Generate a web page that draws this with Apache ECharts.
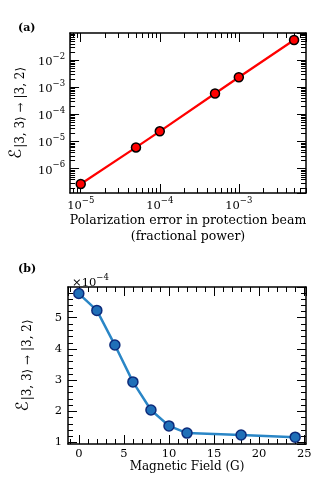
<!DOCTYPE html>
<html>
<head>
<meta charset="utf-8">
<script src="https://cdn.jsdelivr.net/npm/echarts@6/dist/echarts.min.js"></script>
<style>
  html, body { margin: 0; padding: 0; background: #fff; }
  #chart { width: 328px; height: 490px; }
</style>
</head>
<body>
<div id="chart"></div>
<script>
/* -----------------------------
   Leakage |3,3> -> |3,2> : two stacked panels
   ----------------------------- */

// Panel (a): polarization error vs leakage (log-log)
const polError = [1e-5, 5e-5, 1e-4, 5e-4, 1e-3, 5e-3];
const polLeak = [2.7e-7, 6.0e-6, 2.35e-5, 5.8e-4, 2.3e-3, 5.4e-2];

// Panel (b): magnetic field vs leakage, values in units of 1e-4
const fieldG = [0, 2, 4, 6, 8, 10, 12, 18, 24];
const fieldLeak = [5.77, 5.23, 4.12, 2.94, 2.04, 1.53, 1.30, 1.24, 1.17];

// Axis ranges
const A_X = [Math.pow(10, -5.135), Math.pow(10, -2.15)];
const A_Y = [Math.pow(10, -6.9), Math.pow(10, -1.01)];
const B_X = [-1.2, 25.2];
const B_Y = [0.95, 5.98];

const SERIF = "DejaVu Serif";
const MAJOR = 9;
const MINOR = 5;

// minor tick positions, [x, y, kind]  kind 0 = x tick, 1 = y tick
const aMinor = [];
for (let n = -7; n <= -1; n++) {
  for (let k = 2; k <= 9; k++) {
    const v = k * Math.pow(10, n);
    if (v > A_X[0] && v < A_X[1]) aMinor.push([v, 1e-3, 0]);
    if (v > A_Y[0] && v < A_Y[1]) aMinor.push([1e-4, v, 1]);
  }
}
const bMinor = [];
for (let v = -1; v <= 25; v++) {
  if (v % 5 !== 0) bMinor.push([v, 3, 0]);
}
for (let i = 5; i < 30; i++) {
  const v = i / 5;
  if (i % 5 !== 0 && v < B_Y[1]) bMinor.push([10, v, 1]);
}

function minorTicks(params, api) {
  const r = params.coordSys;
  const style = { stroke: "#000", lineWidth: 1 };
  const p = api.coord([api.value(0), api.value(1)]);
  if (api.value(2) === 0) {
    const x = Math.round(p[0]) + 0.5;
    return { type: "group", children: [
      { type: "line", shape: { x1: x, y1: r.y + r.height, x2: x, y2: r.y + r.height - MINOR }, style },
      { type: "line", shape: { x1: x, y1: r.y, x2: x, y2: r.y + MINOR }, style }
    ] };
  }
  const y = Math.round(p[1]) + 0.5;
  return { type: "group", children: [
    { type: "line", shape: { x1: r.x, y1: y, x2: r.x + MINOR, y2: y }, style },
    { type: "line", shape: { x1: r.x + r.width, y1: y, x2: r.x + r.width - MINOR, y2: y }, style }
  ] };
}

const supRich = {
  b: { fontFamily: SERIF, fontSize: 11.5, fontWeight: "normal", color: "#000", padding: [4, 0, 0, 0], verticalAlign: "bottom" },
  s: { fontFamily: SERIF, fontSize: 8.5, fontWeight: "normal", color: "#000", verticalAlign: "top" },
  x: { fontFamily: SERIF, fontSize: 11.5, fontWeight: "normal", color: "#000", padding: [4, 0, 0, 0], verticalAlign: "bottom" }
};

function pow10Label(v) {
  const e = Math.round(Math.log10(v));
  return `{b|10}{s|${e < 0 ? "\u2212" : ""}${Math.abs(e)}}`;
}

const yNameRich = {
  e: { fontFamily: "DejaVu Sans", fontSize: 17, color: "#000", verticalAlign: "top" },
  sub: { fontFamily: SERIF, fontSize: 12, color: "#000", verticalAlign: "bottom", padding: [7, 0, 0, 1] }
};
const yName = "{e|\u2130}{sub||3, 3\u27E9 \u2192 |3, 2\u27E9}";

function axisBase(type, gridIndex, range, extra) {
  return Object.assign({
    type,
    gridIndex,
    min: range[0],
    max: range[1],
    axisLine: { show: true, onZero: false, lineStyle: { color: "#000", width: 1.5 } },
    axisTick: { show: true, inside: true, length: MAJOR, lineStyle: { color: "#000", width: 1 } },
    splitLine: { show: false },
    axisLabel: { show: false }
  }, extra);
}

const chart = echarts.init(document.getElementById("chart"), null, { renderer: "canvas" });

chart.setOption({
  animation: false,
  backgroundColor: "#fff",
  title: [
    { text: "(a)", left: 13, top: 18, textStyle: { fontFamily: SERIF, fontSize: 11, fontWeight: "bold", color: "#000" } },
    { text: "(b)", left: 13, top: 259, textStyle: { fontFamily: SERIF, fontSize: 11, fontWeight: "bold", color: "#000" } },
    { text: "{x|×10}{s|\u22124}", left: 67, top: 268,
      textStyle: { fontFamily: SERIF, fontSize: 11, fontWeight: "normal", color: "#000", rich: supRich } }
  ],
  grid: [
    { left: 68, top: 33, width: 238, height: 160 },
    { left: 68, top: 287, width: 238, height: 157 }
  ],
  xAxis: [
    axisBase("log", 0, A_X, {
      position: "bottom",
      logBase: 10,
      axisLabel: { show: true, margin: 3, formatter: pow10Label, rich: supRich, showMinLabel: false, showMaxLabel: false },
      name: "Polarization error in protection beam\n(fractional power)",
      nameLocation: "middle",
      nameGap: 19,
      nameTextStyle: { fontFamily: SERIF, fontSize: 12.5, color: "#000", lineHeight: 16 }
    }),
    axisBase("log", 0, A_X, { position: "top", logBase: 10 }),
    axisBase("value", 1, B_X, {
      position: "bottom",
      axisLabel: { show: true, margin: 4, fontFamily: SERIF, fontSize: 11.5, color: "#000", showMinLabel: false, showMaxLabel: false },
      name: "Magnetic Field (G)",
      nameLocation: "middle",
      nameGap: 14,
      nameTextStyle: { fontFamily: SERIF, fontSize: 12, color: "#000" }
    }),
    axisBase("value", 1, B_X, { position: "top" })
  ],
  yAxis: [
    axisBase("log", 0, A_Y, {
      position: "left",
      logBase: 10,
      axisLabel: { show: true, margin: 5, formatter: pow10Label, rich: supRich, showMinLabel: false, showMaxLabel: false },
      name: yName,
      nameLocation: "middle",
      nameGap: 34,
      nameRotate: 90,
      nameTextStyle: { rich: yNameRich }
    }),
    axisBase("log", 0, A_Y, { position: "right", logBase: 10 }),
    axisBase("value", 1, B_Y, {
      position: "left",
      axisLabel: { show: true, margin: 6, fontFamily: SERIF, fontSize: 11.5, color: "#000", showMinLabel: false, showMaxLabel: false },
      name: yName,
      nameLocation: "middle",
      nameGap: 34,
      nameRotate: 90,
      nameTextStyle: { rich: yNameRich }
    }),
    axisBase("value", 1, B_Y, { position: "right" })
  ],
  series: [
    {
      type: "custom",
      xAxisIndex: 0, yAxisIndex: 0,
      silent: true, z: 5,
      renderItem: minorTicks,
      data: aMinor
    },
    {
      type: "custom",
      xAxisIndex: 2, yAxisIndex: 2,
      silent: true, z: 5,
      renderItem: minorTicks,
      data: bMinor
    },
    {
      type: "line",
      xAxisIndex: 0, yAxisIndex: 0,
      data: polError.map((x, i) => [x, polLeak[i]]),
      symbol: "circle",
      symbolSize: 9,
      lineStyle: { color: "#ff0000", width: 2.2 },
      itemStyle: { color: "#ff0000", borderColor: "#000", borderWidth: 1.5 },
      z: 10
    },
    {
      type: "line",
      xAxisIndex: 2, yAxisIndex: 2,
      data: fieldG.map((x, i) => [x, fieldLeak[i]]),
      symbol: "circle",
      symbolSize: 10,
      lineStyle: { color: "#2a86c6", width: 2.5 },
      itemStyle: { color: "#1f6fb8", borderColor: "#0c2a7a", borderWidth: 1.5 },
      z: 10
    }
  ]
});
</script>
</body>
</html>
